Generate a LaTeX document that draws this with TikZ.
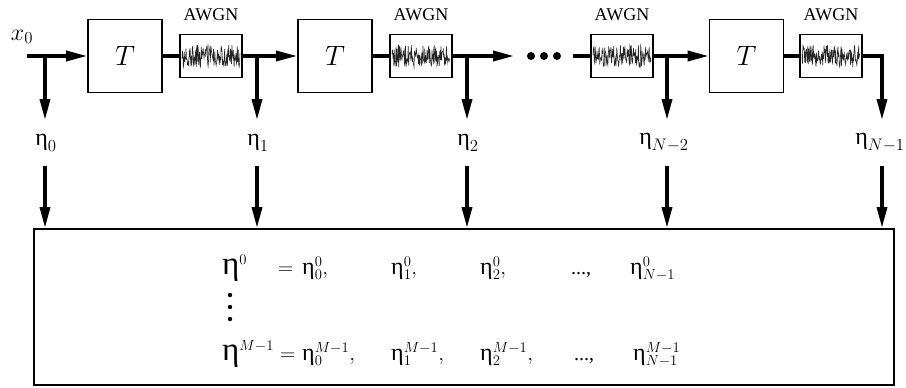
\RequirePackage{fix-cm}
\documentclass[tikz,border=0pt]{standalone}
\usepackage{fontspec}
\newfontfamily\awgnfont{Liberation Serif}
\newcommand\eet{\mbox{\awgnfont η}}
\newcommand\smeta{\mbox{\awgnfont\fontsize{24}{24}\selectfont η}}
\newcommand\lgeta{\mbox{\awgnfont\fontsize{33}{33}\selectfont η}}
\usetikzlibrary{arrows.meta}
\begin{document}
\begin{tikzpicture}[x=1pt,y=-1pt,
  tbox/.style={draw,line width=1.6pt,minimum width=74pt,minimum height=73pt,inner sep=0pt,font=\fontsize{28}{28}\selectfont},
  nbox/.style={draw,line width=1.6pt,minimum width=62pt,minimum height=43pt,inner sep=0pt},
  nlabel/.style={font=\awgnfont\fontsize{18}{18}\selectfont,inner sep=0pt},
  sig/.style={line width=3.4pt},
  arr/.style={sig,-{Triangle[length=21pt,width=10pt]}},
  elabel/.style={font=\fontsize{24}{24}\selectfont,inner sep=0pt},
  math/.style={font=\fontsize{21}{21}\selectfont,inner sep=0pt,anchor=base west},
  dotstyle/.style={font=\awgnfont\fontsize{20}{20}\selectfont,inner sep=0pt,anchor=base west},
  noise/.style={line width=0.6pt,black!85}]
\useasboundingbox (0,0) rectangle (906,388);
% blocks
\node[tbox] (T1) at (125,56) {$T$};
\node[nbox] (A1) at (211,56) {};
\node[tbox] (T2) at (335,56) {$T$};
\node[nbox] (A2) at (421,56) {};
\node[nbox] (A3) at (622,56) {};
\node[tbox] (T4) at (746.5,56) {$T$};
\node[nbox] (A4) at (831,56) {};
\node[nlabel] (L1) at (211,15) {AWGN};
\node[nlabel] (L2) at (421,15) {AWGN};
\node[nlabel] (L3) at (622,15) {AWGN};
\node[nlabel] (L4) at (831,15) {AWGN};
% noise traces
\pgfmathsetseed{7}
\foreach \c in {211,421,622,831}{
  \draw[noise] plot[domain={\c-29}:{\c+29},samples=130] (\x,{56+11*rand});
}
% coordinates
\coordinate (s) at (27,56);
\coordinate (b0) at (45,56);
\coordinate (b1) at (257,56);
\coordinate (b2) at (467,56);
\coordinate (e2) at (514,56);
\coordinate (f3) at (573,56);
\coordinate (b3) at (667,56);
\coordinate (c4) at (882,56);
\coordinate (d0) at (45,120);
\coordinate (d1) at (257,120);
\coordinate (d2) at (467,120);
\coordinate (d3) at (667,120);
\coordinate (d4) at (882,120);
\node[elabel] (x0) at (22,37) {$x_0$};
% signal path
\draw[arr] (s) -- (T1.west);
\draw[arr] (b0) -- (d0);
\draw[sig] (T1.east) -- (A1.west);
\draw[sig] (A1.east) -- (b1);
\draw[arr] (b1) -- (T2.west);
\draw[arr] (b1) -- (d1);
\draw[sig] (T2.east) -- (A2.west);
\draw[sig] (A2.east) -- (b2);
\draw[arr] (b2) -- (e2);
\draw[arr] (b2) -- (d2);
\foreach \x in {531,544,557} \fill (\x,56) circle (4pt);
\draw[sig] (f3) -- (A3.west);
\draw[sig] (A3.east) -- (b3);
\draw[arr] (b3) -- (T4.west);
\draw[arr] (b3) -- (d3);
\draw[sig] (T4.east) -- (A4.west);
\draw[arr] (A4.east) -- (c4) -- (d4);
% eta labels
\node[elabel] (n0) at (46,143) {$\eet_0$};
\node[elabel] (n1) at (258,143) {$\eet_1$};
\node[elabel] (n2) at (468,143) {$\eet_2$};
\node[elabel] (n3) at (664,143) {$\eet_{N-2}$};
\node[elabel] (n4) at (880,143) {$\eet_{N-1}$};
% collector box
\node[draw,line width=1.6pt,minimum width=860pt,minimum height=156pt,anchor=north west,inner sep=0pt] (box) at (33,228) {};
\coordinate (u0) at (45,166);
\coordinate (u1) at (257,166);
\coordinate (u2) at (467,166);
\coordinate (u3) at (667,166);
\coordinate (u4) at (882,166);
\foreach \i in {0,...,4}{
  \draw[arr] (u\i) -- (u\i |- box.north);
}
% contents
\node[math] (r1a) at (222,274) {$\lgeta^{0}$};
\node[math] (r1b) at (278,274) {$=$};
\node[math] (r1c) at (302,274) {$\smeta^{0}_{0},$};
\node[math] (r1d) at (391,274) {$\smeta^{0}_{1},$};
\node[math] (r1e) at (480,274) {$\smeta^{0}_{2},$};
\node[dotstyle] (r1f) at (571,274) {...,};
\node[math] (r1g) at (630,274) {$\smeta^{0}_{N-1}$};
\node[math] (r2a) at (222,360) {$\lgeta^{M-1}$};
\node[math] (r2b) at (280,360) {$=$};
\node[math] (r2c) at (302,360) {$\smeta^{M-1}_{0},$};
\node[math] (r2d) at (391,360) {$\smeta^{M-1}_{1},$};
\node[math] (r2e) at (480,360) {$\smeta^{M-1}_{2},$};
\node[dotstyle] (r2f) at (574,360) {...,};
\node[math] (r2g) at (633,360) {$\smeta^{M-1}_{N-1}$};
\foreach \y in {295,307,319} \fill (230,\y) circle (2.2pt);
\end{tikzpicture}
\end{document}
